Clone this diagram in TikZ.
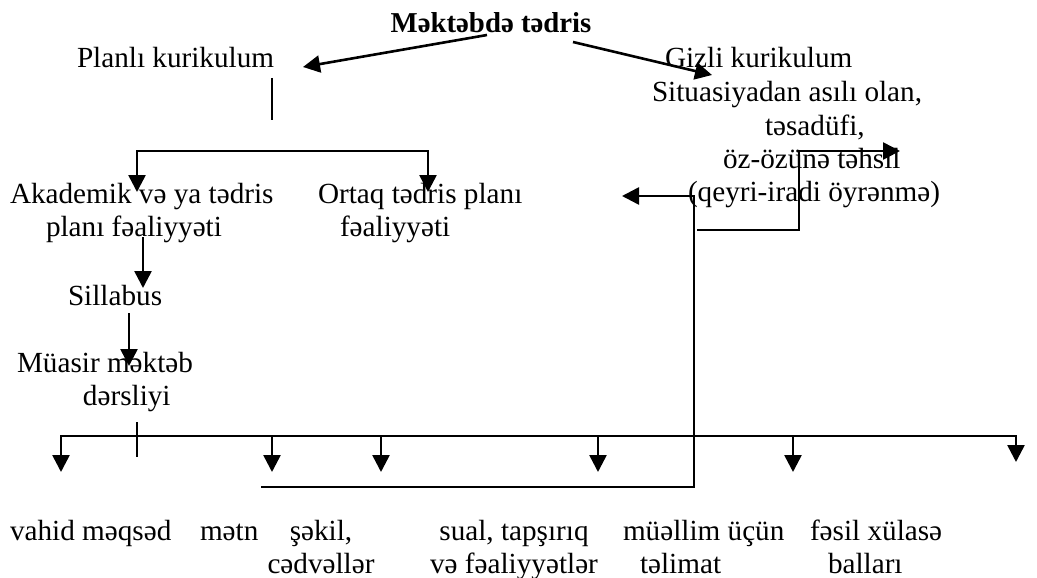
\documentclass[tikz,border=0pt]{standalone}
\usepackage{fontspec}
\setmainfont{Liberation Serif}
\usetikzlibrary{arrows.meta}
\begin{document}
\begin{tikzpicture}[x=1pt,y=-1pt,
  lbl/.style={inner sep=0pt,outer sep=0pt,font=\fontsize{29.2}{33.3}\selectfont},
  ln/.style={line width=2.6pt},
  arr/.style={line width=2.6pt,-{Triangle[width=17pt,length=17pt]}},
  arrb/.style={line width=2.6pt,{Triangle[width=17pt,length=17pt]}-{Triangle[width=17pt,length=17pt]}}]
\useasboundingbox (0,0) rectangle (1037,578);
% texts
\node[lbl,anchor=base,font=\fontsize{28.8}{33.3}\selectfont\bfseries] (title) at (491,33) {Məktəbdə tədris};
\node[lbl,anchor=base west] (planli) at (77,68) {Planlı kurikulum};
\node[lbl,anchor=base west] (gizli) at (665,68) {Gizli kurikulum};
\node[lbl,anchor=base west] (desc) at (652,102) {\begin{tabular}[t]{@{}l@{}}Situasiyadan asılı olan,\\ \hspace*{113pt}təsadüfi,\\ \hspace*{71pt}öz-özünə təhsil\\ \hspace*{36pt}(qeyri-iradi öyrənmə)\end{tabular}};
\node[lbl,anchor=base west] (akad) at (10,203) {\begin{tabular}[t]{@{}l@{}}Akademik və ya tədris\\ \hspace*{36pt}planı fəaliyyəti\end{tabular}};
\node[lbl,anchor=base west] (ortaq) at (318,203) {\begin{tabular}[t]{@{}l@{}}Ortaq tədris planı\\ \hspace*{22pt}fəaliyyəti\end{tabular}};
\node[lbl,anchor=base west] (sill) at (68,305) {Sillabus};
\node[lbl,anchor=base west] (mua) at (17,372) {\begin{tabular}[t]{@{}l@{}}Müasir məktəb\\ \hspace*{66pt}dərsliyi\end{tabular}};
\node[lbl,anchor=base west] (vahid) at (10,540) {vahid məqsəd};
\node[lbl,anchor=base west] (metn) at (200,540) {mətn};
\node[lbl,anchor=base] (sekil) at (321,540) {\begin{tabular}[t]{@{}c@{}}şəkil,\\ cədvəllər\end{tabular}};
\node[lbl,anchor=base] (sual) at (514,540) {\begin{tabular}[t]{@{}c@{}}sual, tapşırıq\\ və fəaliyyətlər\end{tabular}};
\node[lbl,anchor=base west] (muel) at (623,540) {\begin{tabular}[t]{@{}l@{}}müəllim üçün\\ \hspace*{17pt}təlimat\end{tabular}};
\node[lbl,anchor=base west] (fesil) at (810,540) {\begin{tabular}[t]{@{}l@{}}fəsil xülasə\\ \hspace*{18pt}balları\end{tabular}};
% connector points
\coordinate (t1) at (487,35);
\coordinate (t2) at (573,42);
\coordinate (pTip) at (303,67);
\coordinate (gTip) at (712,75);
\coordinate (pv1) at (272,78);
\coordinate (pv2) at (272,120);
\coordinate (aTip) at (137,192);
\coordinate (oTip) at (428,192);
\coordinate (as1) at (143,237);
\coordinate (sTip) at (143,288);
\coordinate (sm1) at (129,313);
\coordinate (mTip) at (129,366);
\coordinate (mk1) at (137,422);
\coordinate (mk2) at (137,457);
\coordinate (b1) at (61,472);
\coordinate (b2) at (272,472);
\coordinate (b3) at (381,472);
\coordinate (b4) at (598,472);
\coordinate (b5) at (793,472);
\coordinate (b6) at (1016,462);
\coordinate (l1) at (261,487);
\coordinate (lTip) at (622,196);
\coordinate (r1) at (697,230);
\coordinate (rTip) at (900,151);
% connectors
\draw[arr] (t1) -- (pTip);
\draw[arr] (t2) -- (gTip);
\draw[ln] (pv1) -- (pv2);
\draw[arrb] (aTip) -- (aTip |- 0,151) -- (oTip |- 0,151) -- (oTip);
\draw[arr] (as1) -- (sTip);
\draw[arr] (sm1) -- (mTip);
\draw[ln] (mk1) -- (mk2);
\draw[arrb] (b1) -- (b1 |- 0,436) -- (b6 |- 0,436) -- (b6);
\foreach \p in {b2,b3,b4,b5} \draw[arr] (\p |- 0,436) -- (\p);
\draw[arr] (l1) -- (694,487) -- (694,196) -- (lTip);
\draw[arr] (r1) -- (799,230) -- (799,151) -- (rTip);
\end{tikzpicture}
\end{document}
